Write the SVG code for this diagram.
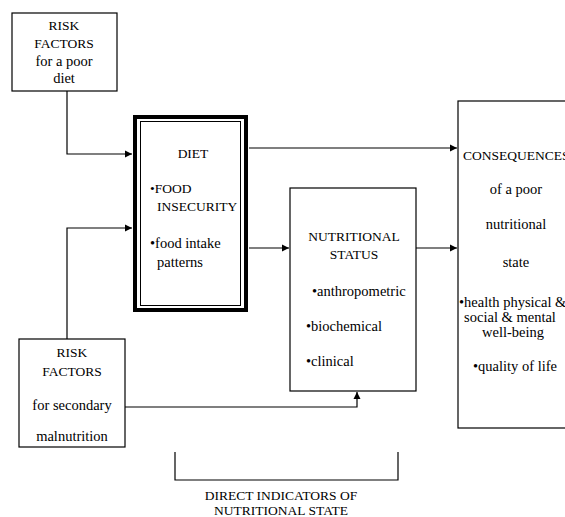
<svg xmlns="http://www.w3.org/2000/svg" width="565" height="517" viewBox="0 0 565 517">
<style>
text{font-family:"Liberation Serif","Times New Roman",serif;font-size:13.5px;fill:#000}
.c{text-anchor:middle}
.lc{font-size:14.5px}
.box{fill:#fff;stroke:#000;stroke-width:1.2}
.ln{fill:none;stroke:#000;stroke-width:1.2}
</style>
<defs>
<marker id="ah" markerWidth="8" markerHeight="8" refX="7" refY="4" orient="auto" markerUnits="userSpaceOnUse">
<path d="M0,0.5 L7,4 L0,7.5 Z" fill="#000"/>
</marker>
</defs>
<rect width="565" height="517" fill="#fff"/>
<g id="connectors">
<polyline class="ln" points="67,91 67,154 132,154" marker-end="url(#ah)"/>
<polyline class="ln" points="67,339 67,228 132,228" marker-end="url(#ah)"/>
<line class="ln" x1="249" y1="148" x2="457" y2="148" marker-end="url(#ah)"/>
<line class="ln" x1="249" y1="248" x2="289" y2="248" stroke-width="2" marker-end="url(#ah)"/>
<line class="ln" x1="416" y1="248" x2="457" y2="248" marker-end="url(#ah)"/>
<polyline class="ln" points="125,407 357,407 357,392" marker-end="url(#ah)"/>
<polyline class="ln" points="175,452 175,480 398,480 398,452"/>
</g>
<g id="risk-poor-diet">
<rect class="box" x="12" y="13" width="105" height="78"/>
<text class="c" x="64" y="30">RISK</text>
<text class="c" x="64" y="48">FACTORS</text>
<text class="c lc" x="64" y="66">for a poor</text>
<text class="c lc" x="64" y="83">diet</text>
</g>
<g id="diet">
<rect x="135" y="117" width="111" height="193" fill="#fff" stroke="#000" stroke-width="4"/>
<rect x="140.5" y="121.5" width="100" height="184" fill="none" stroke="#000" stroke-width="1"/>
<text class="c" x="193" y="158">DIET</text>
<text x="150" y="193">•FOOD</text>
<text x="157" y="211">INSECURITY</text>
<text class="lc" x="150" y="248">•food intake</text>
<text class="lc" x="157" y="267">patterns</text>
</g>
<g id="nutritional-status">
<rect class="box" x="290" y="188" width="126" height="203"/>
<text class="c" x="354" y="241">NUTRITIONAL</text>
<text class="c" x="354" y="259">STATUS</text>
<text class="lc" x="312" y="296">•anthropometric</text>
<text class="lc" x="306" y="331">•biochemical</text>
<text class="lc" x="306" y="366">•clinical</text>
</g>
<g id="consequences">
<rect class="box" x="458" y="101" width="120" height="327"/>
<text x="463" y="160">CONSEQUENCES</text>
<text class="c lc" x="516" y="194">of a poor</text>
<text class="c lc" x="516" y="229">nutritional</text>
<text class="c lc" x="516" y="267">state</text>
<text class="lc" x="459" y="307">•health physical &amp;</text>
<text class="c lc" x="510" y="322">social &amp; mental</text>
<text class="c lc" x="513" y="337">well-being</text>
<text class="c lc" x="515" y="371">•quality of life</text>
</g>
<g id="risk-secondary">
<rect class="box" x="19" y="339" width="106" height="108"/>
<text class="c" x="72" y="357">RISK</text>
<text class="c" x="72" y="376">FACTORS</text>
<text class="c lc" x="72" y="410">for secondary</text>
<text class="c lc" x="72" y="441">malnutrition</text>
</g>
<g id="direct-indicators">
<text class="c" x="281" y="500">DIRECT INDICATORS OF</text>
<text class="c" x="281" y="515">NUTRITIONAL STATE</text>
</g>
</svg>
